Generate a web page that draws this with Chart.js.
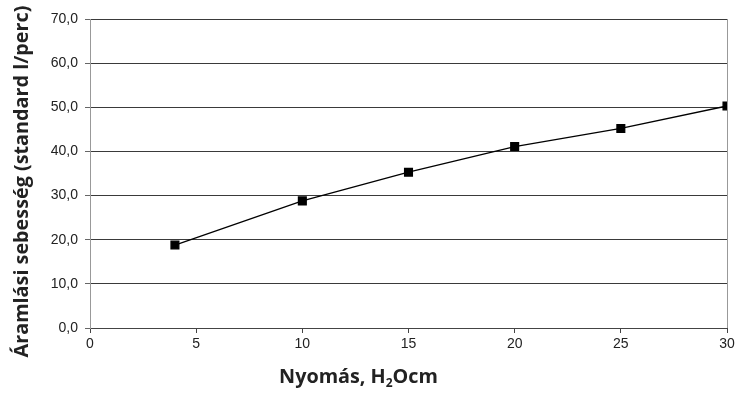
<!DOCTYPE html>
<html>
<head>
<meta charset="utf-8">
<script src="https://cdn.jsdelivr.net/npm/chart.js@4"></script>
<style>
  html, body { margin: 0; padding: 0; background: #fff; }
  #wrap { width: 735px; height: 393px; }
</style>
</head>
<body>
<div id="wrap"><canvas id="flowChart" width="735" height="393"></canvas></div>
<script>
// pressure (H2O cm) vs flow (standard l/min)
var pressure = [4, 10, 15, 20, 25, 30];
var flow = [18.8, 28.8, 35.3, 41.1, 45.2, 50.3];
var yTitle = "Áramlási sebesség (standard l/perc)";
var xTitle = ["Nyomás, H", "2", "Ocm"];

var points = pressure.map(function (p, i) { return { x: p, y: flow[i] }; });

// axis titles drawn by hand so the subscript and offsets match the picture
var titlesPlugin = {
    id: 'titles',
    afterDraw: function (chart) {
        var ctx = chart.ctx;
        var area = chart.chartArea;
        var big = 'bold 19.8px "Open Sans"', small = 'bold 12px "Open Sans"';
        ctx.save();
        ctx.fillStyle = '#222';
        ctx.font = big;
        ctx.textBaseline = 'middle';

        // y title
        ctx.save();
        ctx.translate(22, (area.top + area.bottom) / 2 + 8);
        ctx.rotate(-Math.PI / 2);
        ctx.textAlign = 'center';
        ctx.fillText(yTitle, 0, 0);
        ctx.restore();

        // x title with subscript 2
        var w1 = ctx.measureText(xTitle[0]).width;
        var w3 = ctx.measureText(xTitle[2]).width;
        ctx.font = small;
        var w2 = ctx.measureText(xTitle[1]).width;
        var total = w1 + w2 + w3;
        var cx = (area.left + area.right) / 2 - 50;
        var x0 = cx - total / 2;
        var y0 = 377;
        ctx.textAlign = 'left';
        ctx.font = big;
        ctx.fillText(xTitle[0], x0, y0);
        ctx.font = small;
        ctx.fillText(xTitle[1], x0 + w1, y0 + 7);
        ctx.font = big;
        ctx.fillText(xTitle[2], x0 + w1 + w2, y0);
        ctx.restore();
    }
};

var ctx = document.getElementById('flowChart').getContext('2d');
var chart = new Chart(ctx, {
    type: 'scatter',
    data: {
        datasets: [{
            data: points,
            showLine: true,
            borderColor: '#000',
            borderWidth: 1.3,
            backgroundColor: '#000',
            pointStyle: 'rect',
            pointRadius: 5.5,
            pointHoverRadius: 5.5,
            tension: 0
        }]
    },
    options: {
        responsive: false,
        animation: false,
        events: [],
        layout: { padding: { left: 0, right: 8, top: 19, bottom: 0 } },
        plugins: {
            legend: { display: false },
            tooltip: { enabled: false }
        },
        scales: {
            x: {
                type: 'linear',
                min: 0,
                max: 30,
                ticks: {
                    stepSize: 5,
                    color: '#222',
                    padding: 3,
                    font: { family: '"Liberation Sans", Arial', size: 14 }
                },
                grid: {
                    drawOnChartArea: true,
                    color: function (c) { return c.tick && c.tick.value === 30 ? '#999' : 'rgba(0,0,0,0)'; },
                    tickColor: '#444',
                    tickLength: 5,
                    lineWidth: 1
                },
                border: { color: '#444', width: 1 },
                afterFit: function (scale) {
                    scale.height = 65;
                    scale.paddingLeft = 0;
                    scale.paddingRight = 0;
                }
            },
            y: {
                min: 0,
                max: 70,
                ticks: {
                    stepSize: 10,
                    color: '#222',
                    padding: 7,
                    font: { family: '"Liberation Sans", Arial', size: 14 },
                    callback: function (v) { return v.toFixed(1).replace('.', ','); }
                },
                grid: {
                    color: '#3a3a3a',
                    tickColor: '#666',
                    tickLength: 5,
                    lineWidth: 1
                },
                border: { color: '#999', width: 1 },
                afterFit: function (scale) { scale.width = 90; }
            }
        }
    },
    plugins: [titlesPlugin]
});
</script>
</body>
</html>
